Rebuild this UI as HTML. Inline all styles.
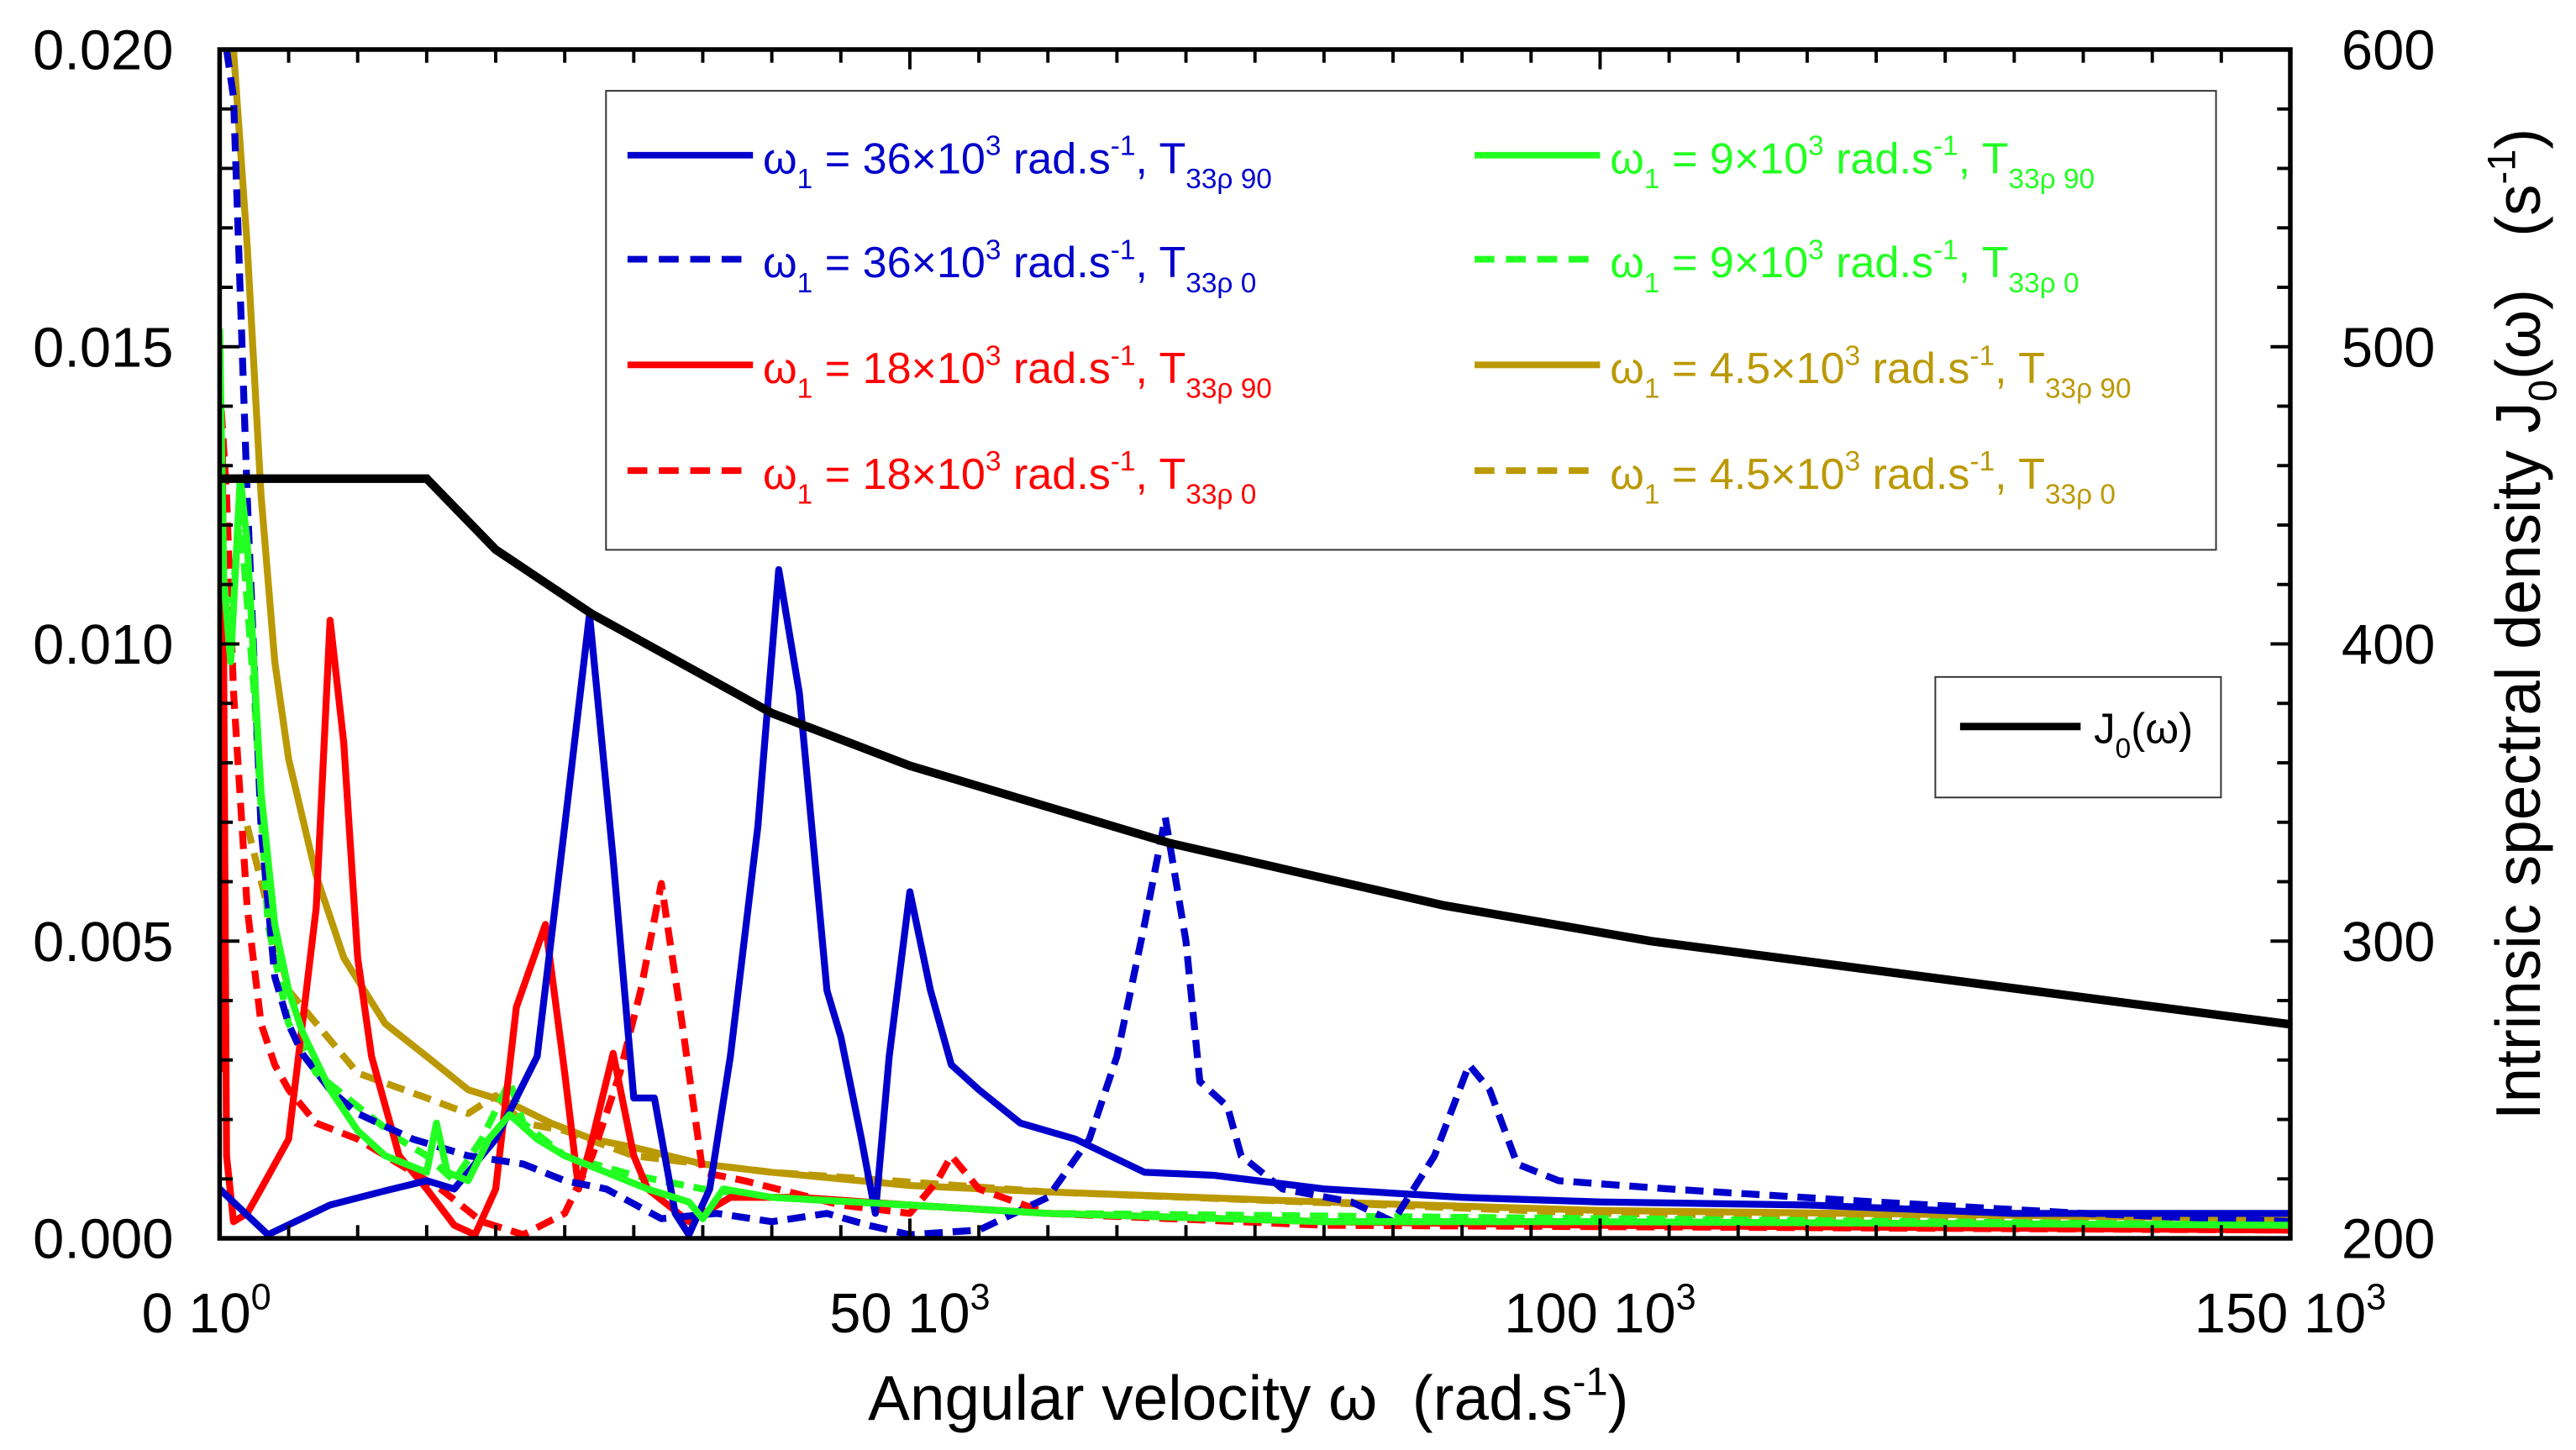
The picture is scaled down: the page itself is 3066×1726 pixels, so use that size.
<!DOCTYPE html>
<html><head><meta charset="utf-8"><style>
html,body{margin:0;padding:0;background:#fff}
svg{display:block}
text{font-family:"Liberation Sans",sans-serif}
</style></head><body>
<svg id="chart" width="3066" height="1726" viewBox="0 0 1560 878.2" xmlns="http://www.w3.org/2000/svg">
<g id="marks"></g>
<g id="axes"></g>
<g id="legend"></g>
</svg>
<script>
// x in 10^3 rad/s, y in 10^-3
const xTicks=[0,50,100,150];
const yTicks=[0,5,10,15,20];
const yTickLabels=["0.000","0.005","0.010","0.015","0.020"];
const y2Ticks=[200,300,400,500,600];

const blueSolidX=[0,1.5,3.5,8,12,15,17,20,23,25,26.8,28.5,30,31.5,33,34,35.5,37,39,40.5,42,44,45,46.5,47.5,48.5,50,51.5,53,55,58,62,67,72,80,90,100,115,130,150];
const blueSolidY=[0.83,0.5,0.06,0.56,0.8,0.97,0.83,1.67,3.06,6.94,10.5,6.39,2.36,2.36,0.42,0.06,0.83,3.06,6.94,11.25,9.17,4.17,3.39,1.67,0.42,3.06,5.83,4.17,2.92,2.5,1.94,1.67,1.11,1.06,0.83,0.69,0.61,0.56,0.42,0.42];
const blueDashX=[0.5,1,2,3,4,5,6,8,10,14,18,22,25,28,32,36,40,44,47,50,55,60,63,65,67,68.5,70,71,73,74,77,82,85,88,90.5,92,94,97,105,120,135,150];
const blueDashY=[20,19.2,12.5,6.9,4.4,3.6,3.1,2.5,2.1,1.67,1.39,1.25,0.97,0.83,0.33,0.42,0.28,0.42,0.22,0.06,0.14,0.69,1.67,3.06,5.28,7.08,5,2.64,2.22,1.39,0.83,0.61,0.28,1.39,2.92,2.5,1.25,0.97,0.83,0.61,0.42,0.28];
const redSolidX=[0,0.2,0.5,1,2,3,5,7,8,9,10,11,13,15,17,18.5,20,21.5,23.6,25,26,27,28.5,30,31,34,37,42,50,60,80,100,150];
const redSolidY=[2.8,13.3,1.39,0.28,0.42,0.83,1.67,5.56,10.4,8.33,4.72,3.06,1.39,0.83,0.22,0.06,0.83,3.89,5.28,2.78,0.83,1.67,3.11,1.39,0.83,0.28,0.69,0.69,0.56,0.42,0.28,0.22,0.14];
const redDashX=[0,0.5,1,2,3,4,5,7,10,13,16,19,22,25,27,29,30.5,32,33.5,35,38,45,50,52,53,55,60,80,150];
const redDashY=[14.4,12.5,9.2,5.56,3.61,2.92,2.5,1.94,1.67,1.25,0.83,0.28,0.06,0.42,1.39,2.78,4.17,5.97,3.61,1.11,0.97,0.56,0.42,0.97,1.39,0.83,0.42,0.22,0.14];
const greenSolidX=[0,0.3,0.8,1.5,2,3,4,5,6,8,10,12,15,15.7,16.5,18,19.5,21,23,25,28,31,34,35,36.5,40,50,60,80,100,150];
const greenSolidY=[15.3,11.1,9.7,12.8,11.7,7.5,5.28,4.17,3.47,2.5,1.81,1.39,1.11,1.94,1.11,0.97,1.67,2.08,1.67,1.39,1.11,0.83,0.61,0.33,0.83,0.69,0.56,0.42,0.28,0.28,0.22];
const greenDashX=[0,0.5,1.5,2.5,3.5,5,7,10,13,15,17,19,21,22,25,30,35,40,60,100,150];
const greenDashY=[13.9,9.7,12.2,9.2,5.28,3.61,2.78,2.22,1.67,1.39,0.97,1.67,2.64,1.94,1.39,1.06,0.83,0.69,0.42,0.33,0.22];
const goldSolidX=[1,2,3,4,5,7,9,12,15,18,21,24,27,30,35,40,50,60,80,100,150];
const goldSolidY=[20,16.7,12.5,9.7,8.06,6.1,4.72,3.61,3.06,2.5,2.28,1.94,1.67,1.53,1.25,1.11,0.89,0.78,0.61,0.47,0.33];
const goldDashX=[2,5,10,15,18,20,22,25,30,40,60,100,150];
const goldDashY=[6.94,4.17,2.78,2.36,2.1,2.4,1.94,1.81,1.39,1.11,0.78,0.42,0.28];
const j0X=[0,15,20,27,40,50,68.8,88.7,103.7,150];
const j0Y=[455.6,455.6,431.7,410,376.7,359,333,312,300,272];

const L=133,R=1387,T=30,B=750;
const sx=v=>L+v/150*(R-L);
const sy=v=>B-v/20*(B-T);
const sy2=v=>B-(v-200)/400*(B-T);
const NS="http://www.w3.org/2000/svg";
function mk(tag,attrs,parent){const e=document.createElementNS(NS,tag);for(const k in attrs)e.setAttribute(k,attrs[k]);parent.appendChild(e);return e;}
const marks=document.getElementById('marks'),axes=document.getElementById('axes'),leg=document.getElementById('legend');

const clip=mk('clipPath',{id:'pc'},document.getElementById('chart'));
mk('rect',{x:L,y:T,width:R-L,height:B-T},clip);
marks.setAttribute('clip-path','url(#pc)');

function series(xs,ys,color,dash,name,scale){
  const d=xs.map((x,i)=>(i?'L':'M')+sx(x).toFixed(1)+','+scale(ys[i]).toFixed(1)).join('');
  const p=mk('path',{d:d,fill:'none',stroke:color,'stroke-width':4.2,'stroke-linejoin':'round'},marks);
  if(dash)p.setAttribute('stroke-dasharray','11,6');
  
  
}
const BL='#0000cc',RD='#ff0000',GR='#22ff22',GD='#bb9905';
series(goldDashX,goldDashY,GD,true,'series-4.5k-t0',sy);
series(goldSolidX,goldSolidY,GD,false,'series-4.5k-t90',sy);
series(greenDashX,greenDashY,GR,true,'series-9k-t0',sy);
series(redDashX,redDashY,RD,true,'series-18k-t0',sy);
series(redSolidX,redSolidY,RD,false,'series-18k-t90',sy);
series(blueDashX,blueDashY,BL,true,'series-36k-t0',sy);
series(blueSolidX,blueSolidY,BL,false,'series-36k-t90',sy);
series(greenSolidX,greenSolidY,GR,false,'series-9k-t90',sy);
{
 const d=j0X.map((x,i)=>(i?'L':'M')+sx(x).toFixed(1)+','+sy2(j0Y[i]).toFixed(1)).join('');
 const p=mk('path',{d:d,fill:'none',stroke:'#000','stroke-width':5.2},marks);
 
 
}

const fr=mk('rect',{x:L,y:T,width:R-L,height:B-T,fill:'none',stroke:'#000','stroke-width':2.8},axes);


for(let v=0;v<=150;v+=5){const x=sx(v),len=v%50===0?12:8;
 mk('line',{x1:x,y1:B,x2:x,y2:B-len,stroke:'#000','stroke-width':2},axes);
 mk('line',{x1:x,y1:T,x2:x,y2:T+len,stroke:'#000','stroke-width':2},axes);}
for(let v=0;v<=20;v+=1){const y=sy(v),len=v%5===0?12:8;
 mk('line',{x1:L,y1:y,x2:L+len,y2:y,stroke:'#000','stroke-width':2},axes);}
for(let v=200;v<=600;v+=20){const y=sy2(v),len=v%100===0?12:8;
 mk('line',{x1:R,y1:y,x2:R-len,y2:y,stroke:'#000','stroke-width':2},axes);}
xTicks.forEach((v,i)=>{
 const t=mk('text',{x:sx(v)+(i===0?-8:0),y:807,'font-size':34,'text-anchor':'middle'},axes);
 t.innerHTML=(v===0?'0 10':v+' 10')+'<tspan dy="-14" font-size="22">'+(v===0?'0':'3')+'</tspan>';
 
 
});
yTicks.forEach((v,i)=>{
 const t=mk('text',{x:105,y:sy(v)+12,'font-size':34,'text-anchor':'end'},axes);
 t.textContent=yTickLabels[i];
 
 
});
y2Ticks.forEach(v=>{
 const t=mk('text',{x:1418,y:sy2(v)+12,'font-size':34},axes);
 t.textContent=v;
 
 
});
const xt=mk('text',{x:756,y:860,'font-size':38,'text-anchor':'middle'},axes);
xt.innerHTML='Angular velocity ω\u00a0\u00a0(rad.s<tspan dy="-15" font-size="24">-1</tspan><tspan dy="15">)</tspan>';


const yt=mk('text',{x:0,y:0,'font-size':38,'text-anchor':'middle',transform:'translate(1538,378) rotate(-90)'},axes);
yt.innerHTML='Intrinsic spectral density J<tspan dy="10" font-size="24">0</tspan><tspan dy="-10">(ω)\u00a0\u00a0\u00a0(s</tspan><tspan dy="-15" font-size="24">-1</tspan><tspan dy="15">)</tspan>';



const lb=mk('rect',{x:367,y:55,width:975,height:278,fill:'#fff',stroke:'#333','stroke-width':1},leg);


const entries=[
 [380,94,BL,false,'36','90'],[380,157,BL,true,'36','0'],[380,221,RD,false,'18','90'],[380,285,RD,true,'18','0'],
 [893,94,GR,false,'9','90'],[893,157,GR,true,'9','0'],[893,221,GD,false,'4.5','90'],[893,285,GD,true,'4.5','0']];
entries.forEach(e=>{
 const g=mk('g',{},leg);
 
 
 const l=mk('line',{x1:e[0],y1:e[1],x2:e[0]+76,y2:e[1],stroke:e[2],'stroke-width':4},g);
 if(e[3])l.setAttribute('stroke-dasharray','12,7');
 const t=mk('text',{x:e[0]+82,y:e[1]+11,'font-size':26.5,fill:e[2]},g);
 t.innerHTML='ω<tspan dy="9" font-size="17">1</tspan><tspan dy="-9">\u00a0= '+e[4]+'×10</tspan><tspan dy="-11" font-size="17">3</tspan><tspan dy="11">\u00a0rad.s</tspan><tspan dy="-11" font-size="17">-1</tspan><tspan dy="11">, T</tspan><tspan dy="9" font-size="17">33ρ '+e[5]+'</tspan>';
});
const jb=mk('rect',{x:1172,y:410,width:173,height:73,fill:'#fff',stroke:'#333','stroke-width':1},leg);


mk('line',{x1:1187,y1:440,x2:1260,y2:440,stroke:'#000','stroke-width':4.5},leg);
const jt=mk('text',{x:1268,y:450,'font-size':26},leg);
jt.innerHTML='J<tspan dy="9" font-size="17">0</tspan><tspan dy="-9">(ω)</tspan>';


</script>
</body></html>
